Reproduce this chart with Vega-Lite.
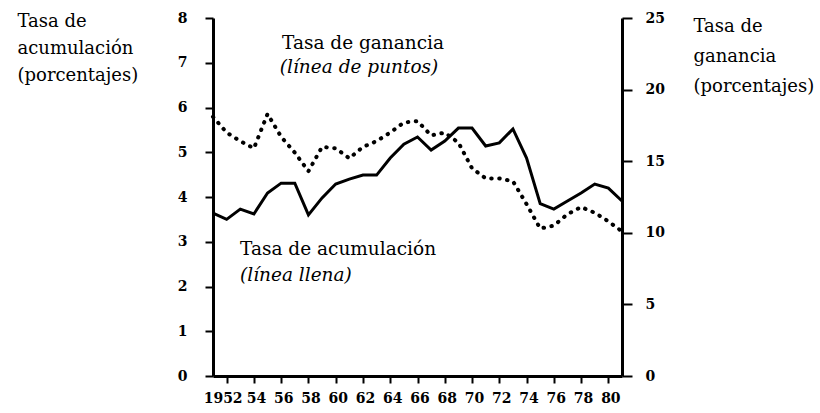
{
  "$schema": "https://vega.github.io/schema/vega-lite/v6.json",
  "width": 409,
  "height": 358,
  "autosize": {"type": "none"},
  "padding": {"left": 213, "top": 18, "right": 198, "bottom": 37},
  "background": "white",
  "config": {
    "view": {"stroke": null},
    "font": "DejaVu Serif",
    "axis": {
      "grid": false,
      "domainColor": "black",
      "domainWidth": 3,
      "tickColor": "black",
      "tickWidth": 2,
      "labelFont": "DejaVu Serif",
      "labelFontSize": 14,
      "labelFontWeight": "bold",
      "labelColor": "black",
      "titleFont": "DejaVu Serif",
      "titleFontSize": 18,
      "titleFontWeight": "normal",
      "titleColor": "black"
    },
    "axisX": {"labelOverlap": false, "labelFlush": false}
  },
  "datasets": {
    "series": [
      {"year": 1951, "acumulacion": 3.64, "ganancia": 18.1},
      {"year": 1952, "acumulacion": 3.5, "ganancia": 17.0},
      {"year": 1953, "acumulacion": 3.73, "ganancia": 16.4},
      {"year": 1954, "acumulacion": 3.62, "ganancia": 15.9},
      {"year": 1955, "acumulacion": 4.09, "ganancia": 18.3},
      {"year": 1956, "acumulacion": 4.31, "ganancia": 16.7},
      {"year": 1957, "acumulacion": 4.31, "ganancia": 15.6},
      {"year": 1958, "acumulacion": 3.6, "ganancia": 14.3},
      {"year": 1959, "acumulacion": 3.98, "ganancia": 16.0},
      {"year": 1960, "acumulacion": 4.29, "ganancia": 15.9},
      {"year": 1961, "acumulacion": 4.4, "ganancia": 15.2},
      {"year": 1962, "acumulacion": 4.49, "ganancia": 16.0},
      {"year": 1963, "acumulacion": 4.49, "ganancia": 16.4},
      {"year": 1964, "acumulacion": 4.87, "ganancia": 17.0},
      {"year": 1965, "acumulacion": 5.18, "ganancia": 17.7},
      {"year": 1966, "acumulacion": 5.34, "ganancia": 17.8},
      {"year": 1967, "acumulacion": 5.05, "ganancia": 16.8},
      {"year": 1968, "acumulacion": 5.25, "ganancia": 17.0},
      {"year": 1969, "acumulacion": 5.54, "ganancia": 16.3},
      {"year": 1970, "acumulacion": 5.54, "ganancia": 14.5},
      {"year": 1971, "acumulacion": 5.14, "ganancia": 13.8},
      {"year": 1972, "acumulacion": 5.21, "ganancia": 13.8},
      {"year": 1973, "acumulacion": 5.52, "ganancia": 13.6},
      {"year": 1974, "acumulacion": 4.87, "ganancia": 12.0},
      {"year": 1975, "acumulacion": 3.85, "ganancia": 10.3},
      {"year": 1976, "acumulacion": 3.73, "ganancia": 10.5},
      {"year": 1977, "acumulacion": 3.91, "ganancia": 11.3},
      {"year": 1978, "acumulacion": 4.09, "ganancia": 11.8},
      {"year": 1979, "acumulacion": 4.29, "ganancia": 11.4},
      {"year": 1980, "acumulacion": 4.2, "ganancia": 10.8},
      {"year": 1981, "acumulacion": 3.91, "ganancia": 10.1}
    ],
    "notes": [
      {"label": "Tasa de ganancia", "year": 1956.06, "value": 7.31, "style": "normal"},
      {"label": "(línea de puntos)", "year": 1955.9, "value": 6.77, "style": "italic"},
      {"label": "Tasa de acumulación", "year": 1952.98, "value": 2.7, "style": "normal"},
      {"label": "(línea llena)", "year": 1952.98, "value": 2.12, "style": "italic"}
    ]
  },
  "layer": [
    {
      "layer": [
        {
          "data": {"name": "series"},
          "mark": {"type": "line", "color": "black", "strokeWidth": 3, "strokeJoin": "miter"},
          "encoding": {
            "x": {
              "field": "year", "type": "quantitative",
              "scale": {"domain": [1951, 1981], "nice": false, "zero": false},
              "axis": {
                "title": null,
                "values": [1952, 1954, 1956, 1958, 1960, 1962, 1964, 1966, 1968, 1970, 1972, 1974, 1976, 1978, 1980],
                "labelExpr": "datum.value == 1952 ? '1952' : substring(toString(datum.value), 2, 4)",
                "labelOffset": {"condition": {"test": "datum.value == 1952", "value": -4}, "value": 2},
                "tickSize": 7,
                "labelPadding": 8,
                "labelFlush": false,
                "labelOverlap": false
              }
            },
            "y": {
              "field": "acumulacion", "type": "quantitative",
              "scale": {"domain": [0, 8], "nice": false},
              "axis": {
                "orient": "left",
                "values": [0, 1, 2, 3, 4, 5, 6, 7, 8],
                "tickSize": 8,
                "labelPadding": 18,
                "title": ["Tasa de", "acumulación", "(porcentajes)"],
                "titleAngle": 0,
                "titleAlign": "left",
                "titleBaseline": "top",
                "titleX": -196,
                "titleY": -6,
                "titleLineHeight": 27
              }
            }
          }
        },
        {
          "data": {"name": "notes"},
          "transform": [{"filter": "datum.style == 'normal'"}],
          "mark": {"type": "text", "align": "left", "baseline": "alphabetic", "fontSize": 18.5, "font": "DejaVu Serif", "color": "black"},
          "encoding": {
            "x": {
              "field": "year", "type": "quantitative",
              "axis": {
                "title": null,
                "values": [1952, 1954, 1956, 1958, 1960, 1962, 1964, 1966, 1968, 1970, 1972, 1974, 1976, 1978, 1980],
                "labelExpr": "datum.value == 1952 ? '1952' : substring(toString(datum.value), 2, 4)",
                "labelOffset": {"condition": {"test": "datum.value == 1952", "value": -4}, "value": 2},
                "tickSize": 7,
                "labelPadding": 8,
                "labelFlush": false,
                "labelOverlap": false
              }
            },
            "y": {
              "field": "value", "type": "quantitative",
              "axis": {
                "orient": "left",
                "values": [0, 1, 2, 3, 4, 5, 6, 7, 8],
                "tickSize": 8,
                "labelPadding": 18,
                "title": ["Tasa de", "acumulación", "(porcentajes)"],
                "titleAngle": 0,
                "titleAlign": "left",
                "titleBaseline": "top",
                "titleX": -196,
                "titleY": -6,
                "titleLineHeight": 27
              }
            },
            "text": {"field": "label"}
          }
        },
        {
          "data": {"name": "notes"},
          "transform": [{"filter": "datum.style == 'italic'"}],
          "mark": {"type": "text", "align": "left", "baseline": "alphabetic", "fontSize": 18.5, "font": "DejaVu Serif", "fontStyle": "italic", "color": "black"},
          "encoding": {
            "x": {
              "field": "year", "type": "quantitative",
              "axis": {
                "title": null,
                "values": [1952, 1954, 1956, 1958, 1960, 1962, 1964, 1966, 1968, 1970, 1972, 1974, 1976, 1978, 1980],
                "labelExpr": "datum.value == 1952 ? '1952' : substring(toString(datum.value), 2, 4)",
                "labelOffset": {"condition": {"test": "datum.value == 1952", "value": -4}, "value": 2},
                "tickSize": 7,
                "labelPadding": 8,
                "labelFlush": false,
                "labelOverlap": false
              }
            },
            "y": {
              "field": "value", "type": "quantitative",
              "axis": {
                "orient": "left",
                "values": [0, 1, 2, 3, 4, 5, 6, 7, 8],
                "tickSize": 8,
                "labelPadding": 18,
                "title": ["Tasa de", "acumulación", "(porcentajes)"],
                "titleAngle": 0,
                "titleAlign": "left",
                "titleBaseline": "top",
                "titleX": -196,
                "titleY": -6,
                "titleLineHeight": 27
              }
            },
            "text": {"field": "label"}
          }
        }
      ]
    },
    {
      "data": {"name": "series"},
      "mark": {"type": "line", "color": "black", "strokeWidth": 4, "strokeCap": "round", "strokeDash": [0.5, 7.5]},
      "encoding": {
        "x": {
          "field": "year", "type": "quantitative",
          "axis": {
            "title": null,
            "values": [1952, 1954, 1956, 1958, 1960, 1962, 1964, 1966, 1968, 1970, 1972, 1974, 1976, 1978, 1980],
            "labelExpr": "datum.value == 1952 ? '1952' : substring(toString(datum.value), 2, 4)",
            "labelOffset": {"condition": {"test": "datum.value == 1952", "value": -4}, "value": 2},
            "tickSize": 7,
            "labelPadding": 8,
            "labelFlush": false,
            "labelOverlap": false
          }
        },
        "y": {
          "field": "ganancia", "type": "quantitative",
          "scale": {"domain": [0, 25], "nice": false},
          "axis": {
            "orient": "right",
            "values": [0, 5, 10, 15, 20, 25],
            "tickSize": 10,
            "labelPadding": 13,
            "title": ["Tasa de", "ganancia", "(porcentajes)"],
            "titleAngle": 0,
            "titleAlign": "left",
            "titleBaseline": "top",
            "titleX": 71,
            "titleY": -1,
            "titleLineHeight": 30
          }
        }
      }
    }
  ],
  "resolve": {"scale": {"y": "independent"}, "axis": {"y": "independent"}}
}
